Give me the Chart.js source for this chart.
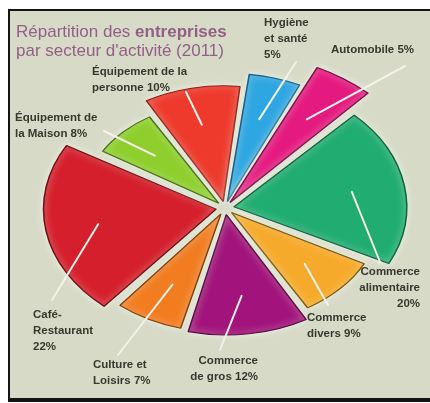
<!DOCTYPE html>
<html lang="fr">
<head>
<meta charset="utf-8">
<title>Répartition des entreprises</title>
<script src="https://cdn.jsdelivr.net/npm/chart.js@4.4.1/dist/chart.umd.min.js"></script>
<style>
  html, body { margin: 0; padding: 0; background: #fff; overflow: hidden; }
  .cadre {
    position: absolute; left: 8px; top: 9px; width: 440px; height: 387px;
    background: #d7dac7;
    border-left: 2px solid #141414; border-top: 2px solid #141414; border-bottom: 4px solid #141414;
  }
  #secteurs { position: absolute; left: 0; top: 0; }
</style>
</head>
<body>
<div class="cadre"></div>
<canvas id="secteurs" width="430" height="403"></canvas>
<script>
// Répartition des entreprises par secteur d'activité (2011), en %
const secteurs = ['Équipement de la personne', 'Hygiène et santé', 'Automobile', 'Commerce alimentaire',
  'Commerce divers', 'Commerce de gros', 'Culture et Loisirs', 'Café-Restaurant', 'Équipement de la Maison'];
const parts = [10, 5, 5, 20, 9, 12, 7, 22, 8];
// texte des étiquettes, {v} est remplacé par la valeur
const etiquettes = [
  ['Équipement de la', 'personne {v}%'],
  ['Hygiène', 'et santé', '{v}%'],
  ['Automobile {v}%'],
  ['Commerce', 'alimentaire', '{v}%'],
  ['Commerce', 'divers {v}%'],
  ['Commerce', 'de gros {v}%'],
  ['Culture et', 'Loisirs {v}%'],
  ['Café-', 'Restaurant', '{v}%'],
  ['Équipement de', 'la Maison {v}%']
];

// style
const fonds = ['#ee3a2d', '#2ea6e2', '#e51a80', '#21ad71', '#f6aa2b', '#a2147b', '#f27c20', '#d51f2c', '#8ecf2d'];
const bords = ['#8c2119', '#1e5d85', '#7a1047', '#135f3e', '#7d5815', '#570b42', '#7f4011', '#6c1016', '#4a6f18'];
const rayons = [0.84, 0.92, 1.08, 0.95, 0.8, 0.88, 0.85, 0.95, 0.72];
const APLATI = 0.74;
const placements = [
  { x: 92, y: 72, align: 'left', bout: [186, 92] },
  { x: 264, y: 23, align: 'left', bout: [296, 62] },
  { x: 331, y: 50, align: 'left', bout: [405, 66] },
  { x: 420, y: 272, align: 'right', bout: [380, 262] },
  { x: 307, y: 318, align: 'left', bout: [328, 305] },
  { x: 258, y: 361, align: 'right', bout: [220, 350] },
  { x: 93, y: 365, align: 'left', bout: [118, 355] },
  { x: 33, y: 315, align: 'left', bout: [52, 300] },
  { x: 15, y: 118, align: 'left', bout: [104, 131] }
];

const centre = (chart) => {
  const a = chart.chartArea;
  return { x: (a.left + a.right) / 2, y: (a.top + a.bottom) / 2 };
};

// rayon propre à chaque part
const rayonsParPart = {
  id: 'rayonsParPart',
  afterDatasetsUpdate(chart) {
    const meta = chart.getDatasetMeta(0);
    meta.data.forEach((arc, i) => { arc.outerRadius = meta.controller.outerRadius * rayons[i]; });
  }
};

// camembert vu en perspective + halo clair autour des parts
const perspective = {
  id: 'perspective',
  beforeDatasetsDraw(chart) {
    const { ctx } = chart;
    const c = centre(chart);
    ctx.save();
    ctx.translate(c.x, c.y);
    ctx.scale(1, APLATI);
    ctx.translate(-c.x, -c.y);
    ctx.shadowColor = 'rgba(236, 246, 232, 0.95)';
    ctx.shadowBlur = 7;
  },
  afterDatasetsDraw(chart) {
    chart.ctx.restore();
  }
};

// titre, traits de rappel et étiquettes
const habillage = {
  id: 'habillage',
  afterDraw(chart) {
    const { ctx } = chart;
    const c = centre(chart);
    const meta = chart.getDatasetMeta(0);

    ctx.save();
    ctx.fillStyle = '#935f88';
    ctx.textBaseline = 'alphabetic';
    ctx.font = '17px "Liberation Sans", Arial, sans-serif';
    ctx.fillText('Répartition des ', 16, 37);
    const w = ctx.measureText('Répartition des ').width;
    ctx.font = 'bold 17px "Liberation Sans", Arial, sans-serif';
    ctx.fillText('entreprises', 16 + w, 37);
    ctx.font = '17px "Liberation Sans", Arial, sans-serif';
    ctx.fillText("par secteur d'activité (2011)", 16, 56);

    meta.data.forEach((arc, i) => {
      const mi = (arc.startAngle + arc.endAngle) / 2;
      const d = (arc.options.offset || 0) / 4 + arc.outerRadius * 0.7;
      const x = arc.x + Math.cos(mi) * d;
      const y = c.y + (arc.y + Math.sin(mi) * d - c.y) * APLATI;
      const p = placements[i];
      ctx.beginPath();
      ctx.moveTo(x, y);
      ctx.lineTo(p.bout[0], p.bout[1]);
      ctx.strokeStyle = '#f5f1ea';
      ctx.lineWidth = 2;
      ctx.lineCap = 'round';
      ctx.stroke();

      ctx.fillStyle = '#38382e';
      ctx.font = 'bold 11.5px "Liberation Sans", Arial, sans-serif';
      ctx.textAlign = p.align;
      ctx.textBaseline = 'middle';
      etiquettes[i].forEach((ligne, k) => {
        ctx.fillText(ligne.replace('{v}', parts[i]), p.x, p.y + k * 16);
      });
    });
    ctx.restore();
  }
};

new Chart(document.getElementById('secteurs'), {
  type: 'pie',
  data: {
    labels: secteurs,
    datasets: [{
      data: parts,
      backgroundColor: fonds,
      borderColor: bords,
      borderWidth: 1.5,
      offset: 36,
      spacing: 3,
      clip: false
    }]
  },
  options: {
    responsive: false,
    animation: false,
    rotation: -30,
    radius: 180,
    layout: { padding: { left: 20, right: 0, top: 13, bottom: 0 } },
    plugins: { legend: { display: false }, tooltip: { enabled: false } }
  },
  plugins: [rayonsParPart, perspective, habillage]
});
</script>
</body>
</html>
